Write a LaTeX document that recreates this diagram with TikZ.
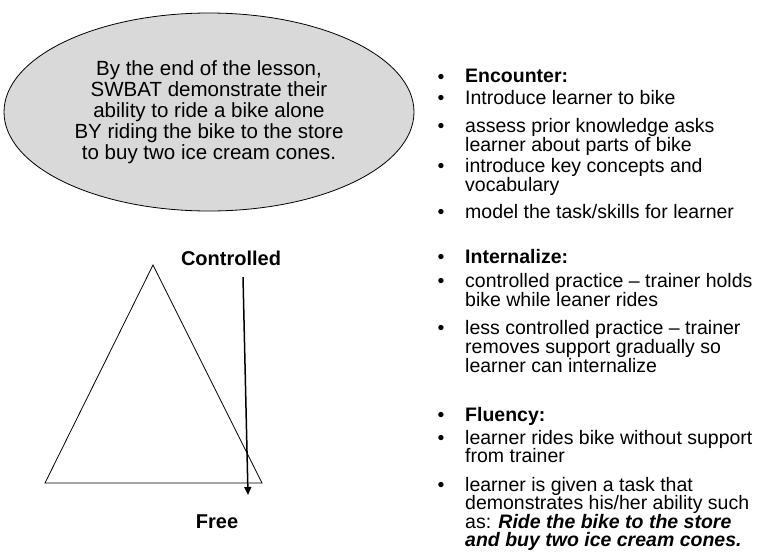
\documentclass[tikz,border=0pt]{standalone}
\usepackage{fontspec}
\setmainfont{Liberation Sans}
\usetikzlibrary{positioning, shapes.geometric, arrows.meta}

\begin{document}
\begin{tikzpicture}[x=1pt,y=-1pt,
  goal/.style={ellipse, draw, line width=0.8pt, fill=gray!30, inner sep=0pt,
    minimum width=410pt, minimum height=198pt, align=center,
    font=\fontsize{20.5}{21}\selectfont},
  item/.style={anchor=north west, inner sep=0pt, align=left,
    font=\fontsize{19.5}{19}\selectfont},
  dot/.style={anchor=base, inner sep=0pt, font=\fontsize{19.5}{19}\selectfont},
  pole/.style={inner sep=0pt, font=\fontsize{20}{20}\selectfont\bfseries}]
\useasboundingbox (0,0) rectangle (767,552);
  \node[goal]  (G) at (209,112) {By the end of the lesson,\\SWBAT demonstrate their\\ability to ride a bike alone\\BY riding the bike to the store\\to buy two ice cream cones.};
% triangle
  \coordinate (T) at (153,265);
  \coordinate (L) at (45,483);
  \coordinate (R) at (262,483);
  \draw[line width=0.8pt] (T) -- (L) -- (R) -- cycle;
  \node[pole]  (C) at (231,258) {Controlled};
  \node[pole]  (F) at (217,522) {Free};
  \coordinate (S) at (243,277);
  \coordinate (E) at (248,495);
  \draw[line width=1.5pt, -{Triangle[length=8pt,width=7pt]}] (S) -- (E);
% stages
  \node[item]  (enc)    at (465,69)  {\textbf{Encounter:}};
  \node[item]  (intro)  at (465,90)  {Introduce learner to bike};
  \node[item, font=\fontsize{19.5}{17}\selectfont] (assess) at (465,118) {assess prior knowledge asks\\learner about parts of bike};
  \node[item]  (keys)   at (465,158) {introduce key concepts and\\vocabulary};
  \node[item]  (model)  at (465,204) {model the task/skills for learner};
  \node[item]  (intl)   at (465,249) {\textbf{Internalize:}};
  \node[item, font=\fontsize{19.5}{16}\selectfont] (guided) at (465,273) {controlled practice – trainer holds\\bike while leaner rides};
  \node[item]  (less)   at (465,320) {less controlled practice – trainer\\removes support gradually so\\learner can internalize};
  \node[item]  (flu)    at (465,407) {\textbf{Fluency:}};
  \node[item, font=\fontsize{19.5}{18.5}\selectfont] (rides) at (465,430) {learner rides bike without support\\from trainer};
  \node[item, font=\fontsize{19.5}{18.5}\selectfont] (task) at (465,477) {learner is given a task that\\demonstrates his/her ability such\\as: \textbf{\textit{Ride the bike to the store}}\\\textbf{\textit{and buy two ice cream cones.}}};
  \foreach \n in {enc,intro,assess,keys,model,intl,guided,less,flu,rides,task}
    \node[dot] at ([xshift=-24pt,yshift=-14pt]\n.north west) {•};
\end{tikzpicture}
\end{document}
